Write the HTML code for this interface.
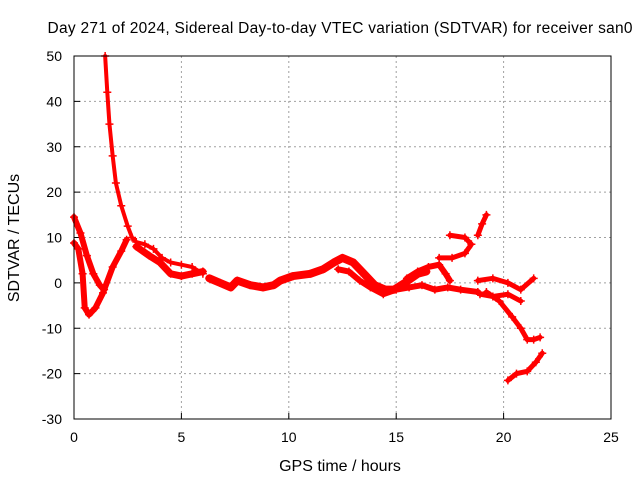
<!DOCTYPE html>
<html><head><meta charset="utf-8"><style>
body{margin:0;background:#fff}
svg{display:block;font-family:"Liberation Sans",sans-serif}
</style></head><body>
<svg id="chart" width="640" height="480">
<text x="340" y="33" font-size="15.5" text-anchor="middle" textLength="585">Day 271 of 2024, Sidereal Day-to-day VTEC variation (SDTVAR) for receiver san0</text>
<text x="340" y="471" font-size="16" text-anchor="middle">GPS time / hours</text>
<text transform="translate(19,238) rotate(-90)" font-size="16" text-anchor="middle">SDTVAR / TECUs</text>
<g id="grid"></g><g id="marks"></g>
<rect x="74" y="56" width="537" height="363" fill="none" stroke="#000" stroke-width="1"/>
</svg>
<script>
const xTicks=[0,5,10,15,20,25];
const yTicks=[-30,-20,-10,0,10,20,30,40,50];
const track1=[[0,14.5],[0.3,11],[0.6,6],[0.9,2],[1.2,-0.5],[1.4,-1.5]];
const track2=[[0,8.8],[0.2,7.5],[0.4,2],[0.5,-5.5],[0.7,-7],[1.0,-5.5],[1.35,-2.2],[1.8,3.5],[2.2,7],[2.45,9.5]];
const track3=[[1.45,50],[1.55,42],[1.65,35],[1.8,28],[1.95,22],[2.2,17],[2.5,12.5],[2.7,10],[2.9,9],[3.3,8.5],[3.7,7.5],[4.1,5.5],[4.5,4.5],[5,4],[5.5,3.5],[6,2]];
const track4=[[2.9,8],[3.5,6],[4,4.5],[4.5,2],[5,1.5],[5.5,2],[6,2.5]];
const track5=[[6.3,1],[6.8,0],[7.3,-1],[7.6,0.5],[8.2,-0.5],[8.8,-1],[9.3,-0.5],[9.6,0.5],[10.2,1.5],[11,2],[11.6,3],[12.1,4.5],[12.5,5.5],[13,4.5],[13.5,2],[14,-0.5],[14.5,-1.5],[14.9,-1.5],[15.4,0],[16,2],[16.4,2.5]];
const track6=[[12.3,3],[12.8,2.5],[13.3,0.5],[13.8,-1],[14.4,-2.5],[15,-1.5],[15.6,-1],[16.2,-0.5],[16.8,-1.5],[17.4,-1],[18,-1.5],[18.8,-2]];
const track7=[[15.5,1],[16,2.5],[16.5,3.5],[17,4],[17.3,2],[17.5,0.5]];
const track8=[[17,5.5],[17.6,5.5],[18.2,6.5],[18.5,8.5],[18.2,10],[17.5,10.5]];
const track9=[[18.8,10.5],[19,13],[19.2,15]];
const track10=[[18.8,0.5],[19.5,1],[20.2,0],[20.8,-1.5],[21.4,1]];
const track11=[[18.9,-2.5],[19.5,-3],[20.2,-2.5],[20.8,-4]];
const track12=[[19.2,-2],[19.8,-4],[20.4,-7.5],[20.8,-10],[21.1,-12.5],[21.4,-12.5],[21.7,-12]];
const track13=[[20.2,-21.5],[20.6,-20],[21.1,-19.5],[21.5,-17.5],[21.8,-15.5]];
const tracks=[track1,track2,track3,track4,track5,track6,track7,track8,track9,track10,track11,track12,track13];
const widths=[6,6,4,7,8,6,6,5,5,5,5,5,5];
const NS="http://www.w3.org/2000/svg";
const X=v=>74+v*537/25, Y=v=>419-(v+30)*363/80;
const grid=document.getElementById('grid'), marks=document.getElementById('marks');
function mk(tag,attrs,parent){const e=document.createElementNS(NS,tag);for(const k in attrs)e.setAttribute(k,attrs[k]);parent.appendChild(e);return e;}
xTicks.forEach(t=>{
 if(t>0&&t<25){const g=mk('line',{x1:X(t),x2:X(t),y1:56,y2:419,stroke:'#a0a0a0','stroke-dasharray':'2,3'},grid);
 
 }
 const l=mk('text',{x:X(t),y:442,'font-size':14,'text-anchor':'middle'},grid);l.textContent=t;
 
 
 mk('line',{x1:X(t),x2:X(t),y1:419,y2:413,stroke:'#000'},grid);
});
yTicks.forEach(t=>{
 if(t>-30&&t<50){const g=mk('line',{x1:74,x2:611,y1:Y(t),y2:Y(t),stroke:'#a0a0a0','stroke-dasharray':'2,3'},grid);
 
 }
 const l=mk('text',{x:62,y:Y(t)+5,'font-size':14,'text-anchor':'end'},grid);l.textContent=t;
 
 
 mk('line',{x1:74,x2:80,y1:Y(t),y2:Y(t),stroke:'#000'},grid);
});
tracks.forEach((tr,i)=>{
 const p=mk('polyline',{points:tr.map(d=>X(d[0])+','+Y(d[1])).join(' '),fill:'none',stroke:'#f00','stroke-width':widths[i],'stroke-linejoin':'round','stroke-linecap':'round'},marks);
 
 
 tr.forEach(d=>{
  const m=mk('path',{d:`M${X(d[0])-4},${Y(d[1])}h8M${X(d[0])},${Y(d[1])-4}v8`,stroke:'#f00','stroke-width':1.5},marks);
  
  
 });
});
</script>
</body></html>
